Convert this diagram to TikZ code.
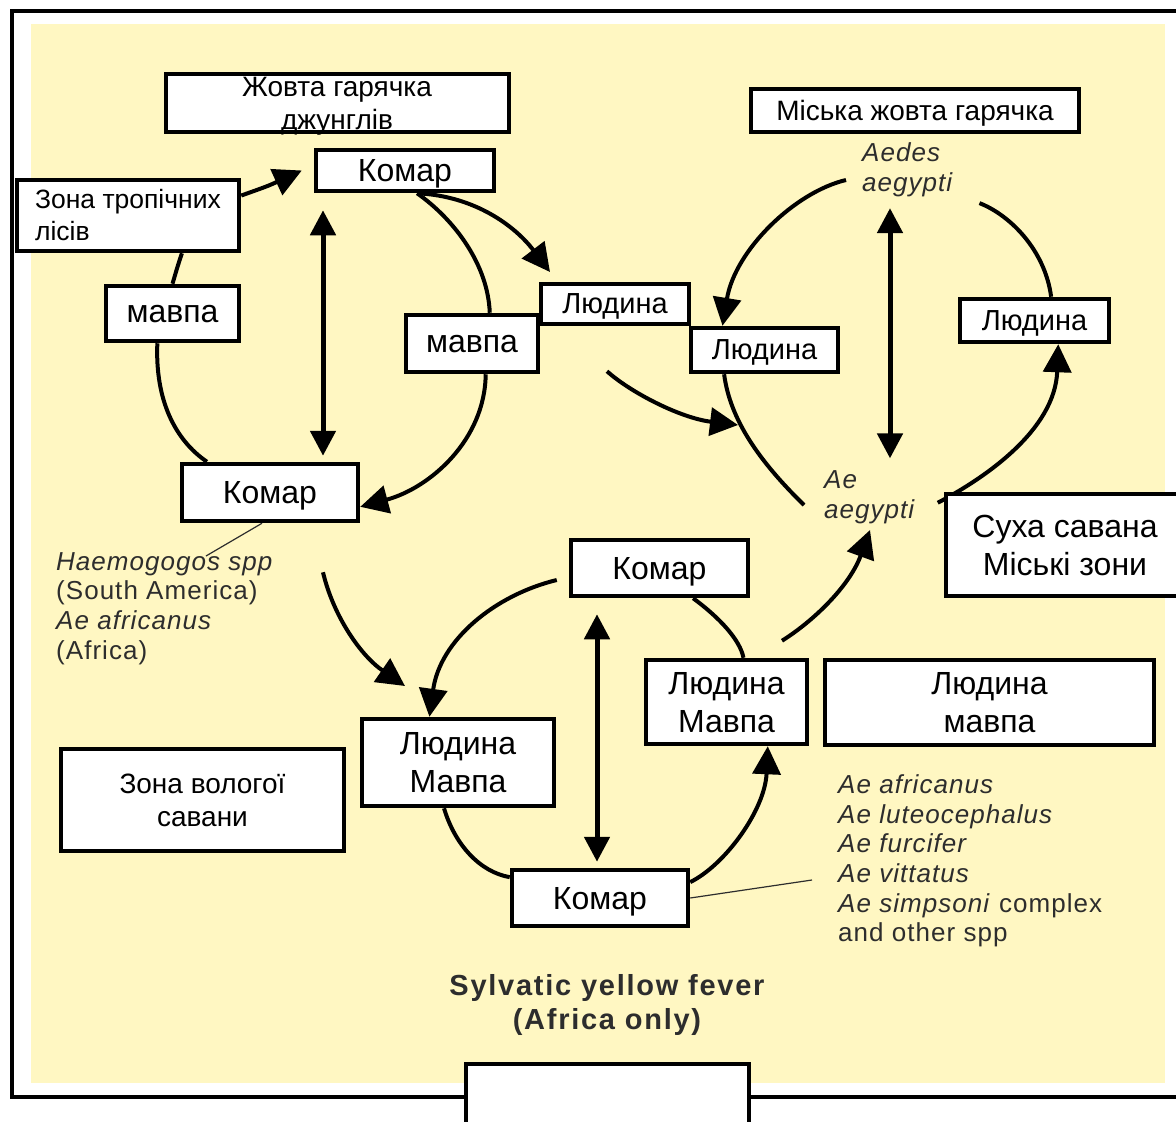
\documentclass[tikz,border=0pt]{standalone}
\usepackage{fontspec}
\setmainfont{Liberation Sans}
\newfontfamily\spfont[LetterSpace=4]{Liberation Sans}
\newfontfamily\capfont[LetterSpace=6]{Liberation Sans}
\usepackage{tikz}
\usetikzlibrary{arrows.meta}
\usepackage{xcolor}
\definecolor{savanna}{RGB}{255, 247, 194}
\definecolor{inkgray}{RGB}{45, 45, 45}
\pgfdeclarelayer{bg}
\pgfdeclarelayer{lines}
\pgfsetlayers{bg,lines,main}

\begin{document}
\begin{tikzpicture}[x=1pt, y=-1pt,
  box/.style={draw, line width=4.5pt, fill=white, inner sep=0pt, align=center, text depth=0pt},
  bigtxt/.style={font=\fontsize{32}{38}\selectfont},
  midtxt/.style={font=\fontsize{28}{33}\selectfont},
  humtxt/.style={font=\fontsize{29}{33}\selectfont},
  arc/.style={line width=4pt},
  arr/.style={line width=4pt, -{Triangle[length=28pt,width=28pt]}},
  dbl/.style={line width=5pt, {Triangle[length=25pt,width=25pt]}-{Triangle[length=25pt,width=25pt]}},
  lead/.style={line width=1.2pt, inkgray},
  sp/.style={inkgray, inner sep=0pt, align=left, anchor=west,
    font=\spfont\fontsize{26}{29.6}\selectfont}]
  \useasboundingbox (0,0) rectangle (1176,1122);

  % фон і рамка
  \begin{pgfonlayer}{bg}
    \fill[white] (0,0) rectangle (1176,1122);
    \fill[savanna] (31,24) rectangle (1165,1083);
    \draw[line width=4pt] (12,11) rectangle (1200,1097);
  \end{pgfonlayer}

  % джунглі
  \node[box, minimum width=343, minimum height=58] (jungle) at (337.5,103) {};
  \node[midtxt, inner sep=0pt, align=center] (jtxt) at (337,106) {Жовта гарячка\\джунглів};
  \node[box, bigtxt, minimum width=178, minimum height=41] (komarA) at (405,170.5) {Комар};
  \node[box, font=\fontsize{26.5}{32}\selectfont, minimum width=222, minimum height=71,
    align=left, text depth=] (zona) at (128,215.5) {Зона тропічних\\лісів\hspace*{130pt}};
  \node[box, bigtxt, minimum width=133, minimum height=55] (mavpaL) at (172.5,313.5) {мавпа};
  \node[box, bigtxt, minimum width=132, minimum height=57] (mavpaM) at (472,343.5) {мавпа};
  \node[box, bigtxt, minimum width=176, minimum height=57] (komarM) at (270,492.5) {Комар};

  % місто
  \node[box, midtxt, minimum width=328, minimum height=43] (city) at (915,110.5) {Міська жовта гарячка};
  \node[box, humtxt, minimum width=148, minimum height=40] (ludT) at (615,304) {Людина};
  \node[box, humtxt, minimum width=147, minimum height=44] (ludM) at (764.5,350) {Людина};
  \node[box, humtxt, minimum width=149, minimum height=43] (ludR) at (1034.5,320.5) {Людина};
  \node[box, bigtxt, minimum width=238, minimum height=102] (suha) at (1065,545) {Суха савана\\Міські зони};

  % савана
  \node[box, bigtxt, minimum width=177, minimum height=56] (komarB) at (659.5,568) {Комар};
  \node[box, bigtxt, minimum width=161, minimum height=84] (ludC) at (726.5,702) {Людина\\Мавпа};
  \node[box, bigtxt, minimum width=329, minimum height=85] (ludW) at (989.5,702.5) {Людина\\мавпа};
  \node[box, bigtxt, minimum width=192, minimum height=87] (ludS) at (458,762.5) {Людина\\Мавпа};
  \node[box, midtxt, minimum width=283, minimum height=102] (wet) at (202.5,800) {Зона вологої\\савани};
  \node[box, bigtxt, minimum width=176, minimum height=56] (komarC) at (600,898) {Комар};
  \node[box, minimum width=283, minimum height=74] (blank) at (607.5,1101) {};

  % види комарів
  \node[sp] (aedes) at (862,170) {\itshape Aedes\\\itshape aegypti};
  \node[sp] (aeg) at (824,497) {\itshape Ae\\\itshape aegypti};
  \node[sp] (haem) at (56,608.5) {\itshape Haemogogos spp\\(South America)\\\itshape Ae africanus\\(Africa)};
  \node[sp] (spp) at (838,861) {\itshape Ae africanus\\\itshape Ae luteocephalus\\\itshape Ae furcifer\\
    \itshape Ae vittatus\\\textit{Ae simpsoni} complex\\and other spp};
  \node[inkgray, inner sep=0pt, align=center, font=\capfont\bfseries\fontsize{29}{34}\selectfont]
    (sylv) at (607,1005) {Sylvatic yellow fever\\(Africa only)};

  % вільні кінці стрілок
  \coordinate (tipE) at (550,272);
  \coordinate (tipK) at (738,425);
  \coordinate (tipL) at (405,686);
  \coordinate (tipO) at (870,530);
  \coordinate (hlead) at (206,556);
  \coordinate (slead) at (812,880);
  \coordinate (ux) at (890,0);

  \begin{pgfonlayer}{lines}
    % цикл джунглів
    \draw[arr] (zona.10) .. controls (268,186) .. ([xshift=-12pt]komarA.west);
    \draw[arc] (zona.-35) .. controls (178,265) .. (mavpaL.north);
    \draw[arc] (mavpaL.243) .. controls (155,400) and (175,440) .. (komarM.154);
    \draw[arc] (komarA.-62) .. controls (455,220) and (488,265) .. (mavpaM.60);
    \draw[arr] (mavpaM.-66) .. controls (485,440) and (430,488) .. (komarM.-9);
    \draw[dbl] ([xshift=-82pt,yshift=-17pt]komarA.south) -- ([xshift=53pt,yshift=6pt]komarM.north);
    \draw[arr] (komarA.-62) .. controls (475,196) and (515,226) .. (tipE);

    % міський цикл
    \draw[arr] ([xshift=-16pt,yshift=-10pt]aedes.west) .. controls (795,192) and (735,250) .. (ludM.150);
    \draw[arc] ([xshift=27pt,yshift=-6pt]aedes.south east) .. controls (1010,215) and (1045,250) .. (ludR.55);
    \draw[dbl, shorten <=11pt, shorten >=12pt] (ux |- aedes.south) -- (ux |- aeg.north);
    \draw[arc] (ludM.211) .. controls (730,420) and (760,462) .. ([xshift=-20pt,yshift=-8pt]aeg.west);
    \draw[arr] ([xshift=-6pt,yshift=-11pt]suha.north west) .. controls (985,478) and (1055,430) .. (ludR.-45);
    \draw[arr] ([xshift=-8pt,yshift=-45pt]ludT.south) .. controls (630,392) and (680,418) .. (tipK);

    % цикл савани
    \draw[arr] ([xshift=53pt,yshift=-49pt]komarM.south) .. controls (333,615) and (360,655) .. (tipL);
    \draw[arr] ([xshift=-12pt,yshift=-12pt]komarB.west) .. controls (495,595) and (440,640) .. (ludS.122);
    \draw[arc] (komarB.-42) .. controls (720,618) and (740,640) .. (ludC.69);
    \draw[arr] ([xshift=55.5pt,yshift=17pt]ludC.north) .. controls (815,620) and (850,585) .. (tipO);
    \draw[arc] (ludS.253) .. controls (455,845) and (480,872) .. (komarC.167);
    \draw[arr] (komarC.10) .. controls (725,865) and (765,810) .. (ludC.-47);
    \draw[dbl] ([xshift=-62.5pt,yshift=-16pt]komarB.south) -- ([xshift=-3pt,yshift=6pt]komarC.north);

    % виноски
    \draw[lead] ([xshift=-8pt]komarM.south) -- (hlead);
    \draw[lead] (komarC.east) -- (slead);
  \end{pgfonlayer}
\end{tikzpicture}
\end{document}
